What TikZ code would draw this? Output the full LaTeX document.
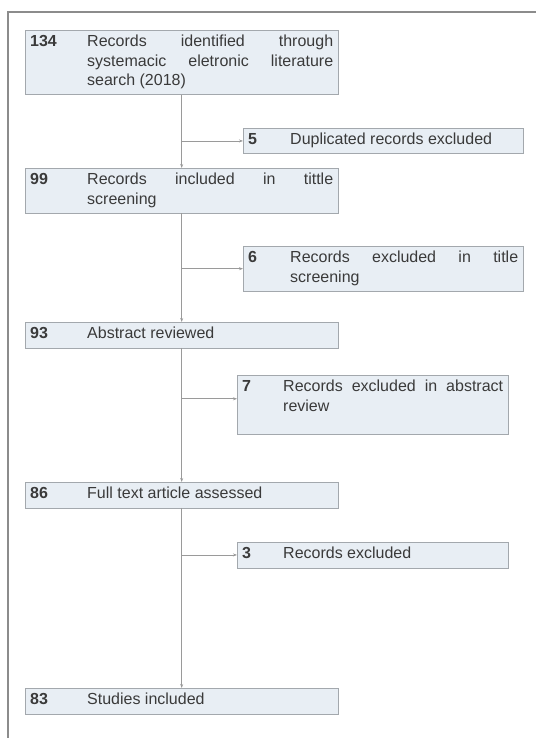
\documentclass[tikz,border=0pt]{standalone}
\usepackage{fontspec}
\setmainfont{Liberation Sans}
\usepackage{xcolor}
\usepackage{tikz}
\usetikzlibrary{arrows.meta,positioning}
\definecolor{boxfill}{HTML}{E8EEF4}
\definecolor{boxline}{HTML}{A3A8AD}
\definecolor{linkgray}{HTML}{9A9A9A}
\definecolor{framegray}{HTML}{8C8C8C}
\definecolor{inkgray}{HTML}{3A3A3A}

\newcommand{\recnum}[2][57pt]{\makebox[#1][l]{\bfseries #2}}
\newcommand{\jline}[1]{\makebox[\linewidth][s]{#1}}

\begin{document}
\begin{tikzpicture}[
        x=1pt, y=-1pt,
        recbox/.style={
          draw=boxline,
          fill=boxfill,
          anchor=north west,
          inner xsep=5pt,
          inner ysep=3pt,
          text=inkgray,
          font=\fontsize{16}{19.5}\selectfont
        },
        arrow/.style={-{Stealth[length=4pt,width=3pt]}, draw=linkgray, line width=0.8pt}
      ]
        \useasboundingbox (0,0) rectangle (536,738);
        \draw[framegray, line width=1.3pt] (8,738) -- (8,12) -- (536,12);

        % main column
        \node[recbox] (ident) at (25,30) {\recnum{134}\parbox[t]{246pt}{\strut\jline{Records identified through}\\\jline{systemacic eletronic literature}\\search (2018)\strut}};
        \node[recbox] (screen) at (25,168) {\recnum{99}\parbox[t]{246pt}{\strut\jline{Records included in tittle}\\screening\strut}};
        \node[recbox] (abst) at (25,322) {\recnum{93}\parbox[t]{246pt}{\strut Abstract reviewed\strut}};
        \node[recbox] (full) at (25,482) {\recnum{86}\parbox[t]{246pt}{\strut Full text article assessed\strut}};
        \node[recbox] (final) at (25,688) {\recnum{83}\parbox[t]{246pt}{\strut Studies included\strut}};

        % exclusions
        \node[recbox] (dup) at (243,128) {\recnum[42pt]{5}\parbox[t]{228pt}{\strut Duplicated records excluded\strut}};
        \node[recbox] (xtitle) at (243,246) {\recnum[42pt]{6}\parbox[t]{228pt}{\strut\jline{Records excluded in title}\\screening\strut}};
        \node[recbox] (xabst) at (237,375) {\recnum[41pt]{7}\parbox[t]{220pt}{\strut\jline{Records excluded in abstract}\\review\rule[-20pt]{0pt}{1pt}}};
        \node[recbox] (xfull) at (237,542) {\recnum[41pt]{3}\parbox[t]{220pt}{\strut Records excluded\strut}};

        \draw[arrow] (ident.south) -- (screen.north);
        \draw[arrow] (screen.south) -- (abst.north);
        \draw[arrow] (abst.south) -- (full.north);
        \draw[arrow] (full.south) -- (final.north);

        \coordinate (xabst-in) at ([yshift=6pt]xabst.west);
        \draw[arrow] (ident.south |- dup.west) -- (dup.west);
        \draw[arrow] (screen.south |- xtitle.west) -- (xtitle.west);
        \draw[arrow] (abst.south |- xabst-in) -- (xabst-in);
        \draw[arrow] (full.south |- xfull.west) -- (xfull.west);
      \end{tikzpicture}
\end{document}
